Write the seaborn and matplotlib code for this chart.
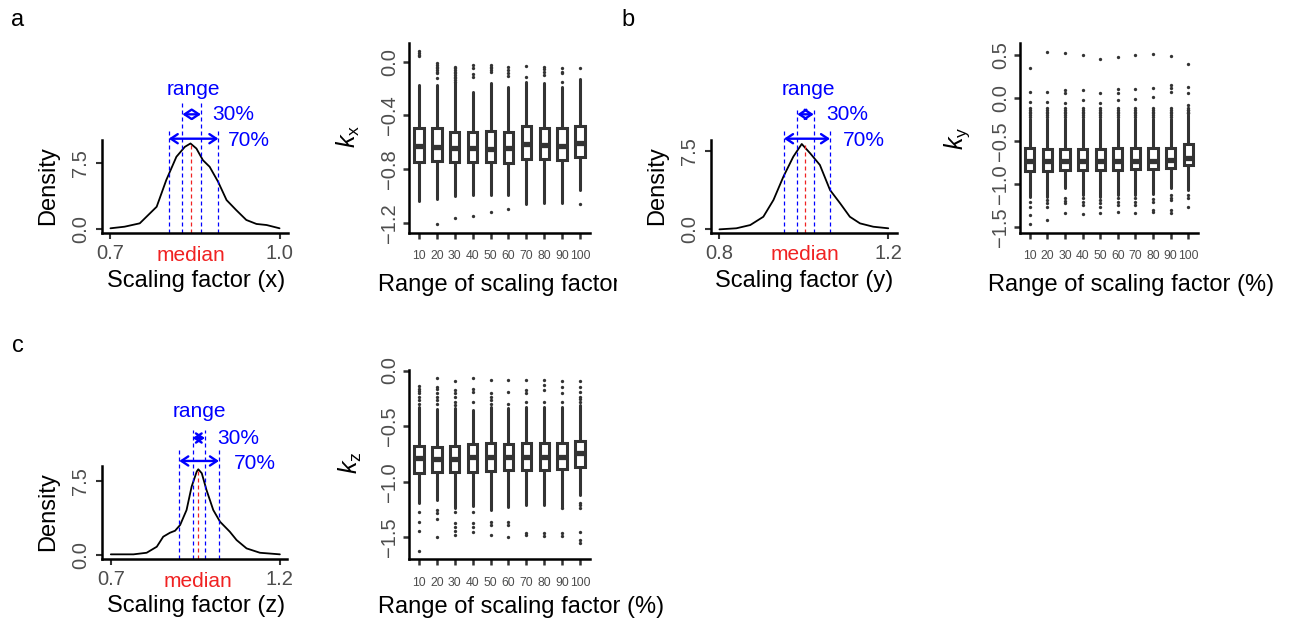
import numpy as np
import pandas as pd
import matplotlib
matplotlib.use("Agg")
import matplotlib.pyplot as plt
import matplotlib.transforms as mtransforms
from matplotlib.transforms import Bbox, TransformedBbox
import seaborn as sns

# ------------------------------------------------------------------ data
# density curves (scaling factor, density)
dens_a_x = [0.700, 0.725, 0.752, 0.782, 0.799, 0.817, 0.832, 0.842, 0.8525, 0.864,
            0.876, 0.891, 0.906, 0.923, 0.941, 0.959, 0.977, 1.000]
dens_a_y = [0.11, 0.29, 0.67, 2.54, 5.54, 8.17, 9.29, 9.67, 9.10, 7.79,
            7.04, 5.35, 3.29, 2.17, 1.05, 0.60, 0.48, 0.11]
dens_b_x = [0.800, 0.840, 0.873, 0.904, 0.928, 0.9515, 0.975, 0.995, 1.015, 1.038,
            1.062, 1.086, 1.109, 1.133, 1.1645, 1.200]
dens_b_y = [0.00, 0.10, 0.41, 1.20, 2.80, 5.02, 6.93, 8.14, 7.25, 6.14,
            3.75, 2.48, 1.20, 0.57, 0.25, 0.10]
dens_c_x = [0.700, 0.767, 0.806, 0.836, 0.855, 0.875, 0.890, 0.905, 0.924, 0.939,
            0.954, 0.9587, 0.969, 0.983, 1.003, 1.023, 1.052, 1.072, 1.1015, 1.141, 1.200]
dens_c_y = [0.07, 0.07, 0.23, 0.84, 1.85, 2.25, 2.45, 3.03, 4.54, 6.90,
            8.41, 8.65, 8.25, 6.56, 4.54, 3.36, 2.35, 1.51, 0.67, 0.23, 0.07]

# central ranges (70 % and 30 %) and medians of the scaling factors
range70_a = [0.8034, 0.8915]
range30_a = [0.8277, 0.8606]
median_a = 0.8436
median_dens_a = 9.6
range70_b = [0.953, 1.062]
range30_b = [0.9846, 1.0234]
median_b = 1.0028
median_dens_b = 8.05
range70_c = [0.9025, 1.0198]
range30_c = [0.942, 0.9784]
median_c = 0.9587
median_dens_c = 8.6

density_xticks_a = [0.7, 1.0]
density_xticks_b = [0.8, 1.2]
density_xticks_c = [0.7, 1.2]
density_yticks = [0.0, 7.5]

categories = ["10", "20", "30", "40", "50", "60", "70", "80", "90", "100"]

# box-plot summaries for k_x
kx_q1 = [-0.748, -0.741, -0.748, -0.748, -0.748, -0.752, -0.723, -0.723, -0.728, -0.708]
kx_med = [-0.624, -0.634, -0.642, -0.642, -0.649, -0.642, -0.610, -0.617, -0.624, -0.605]
kx_q3 = [-0.494, -0.494, -0.519, -0.519, -0.514, -0.519, -0.481, -0.494, -0.494, -0.476]
kx_lo = [-1.037, -1.020, -1.000, -0.987, -0.987, -0.987, -1.056, -1.049, -1.049, -0.951]
kx_hi = [-0.173, -0.173, -0.160, -0.222, -0.160, -0.185, -0.148, -0.160, -0.190, -0.131]
kx_out = [
    [0.075, 0.065, 0.050, 0.040],
    [-0.012, -0.024, -0.037, -0.049, -0.062, -0.074, -0.086, -0.123, -1.205],
    [-0.037, -0.049, -0.062, -0.074, -0.086, -0.099, -0.111, -0.123, -0.136, -0.148, -1.160],
    [-0.024, -0.049, -0.094, -0.116, -1.143],
    [-0.024, -0.037, -0.049, -0.062, -0.074, -1.118],
    [-0.037, -0.066, -0.086, -0.106, -1.094],
    [-0.032, -0.111],
    [-0.037, -0.057, -0.074, -0.099],
    [-0.049, -0.079, -0.086, -0.155],
    [-0.049, -1.054],
]
kx_yticks = [0.0, -0.4, -0.8, -1.2]

# box-plot summaries for k_y
ky_q1 = [-0.852, -0.848, -0.840, -0.840, -0.840, -0.840, -0.833, -0.833, -0.821, -0.782]
ky_med = [-0.735, -0.730, -0.735, -0.730, -0.735, -0.730, -0.730, -0.735, -0.725, -0.695]
ky_q3 = [-0.588, -0.596, -0.596, -0.596, -0.596, -0.588, -0.580, -0.580, -0.580, -0.537]
ky_lo = [-1.151, -1.151, -1.046, -1.132, -1.151, -1.132, -1.132, -1.120, -1.054, -1.073]
ky_hi = [-0.240, -0.240, -0.240, -0.240, -0.240, -0.240, -0.240, -0.240, -0.240, -0.200]
ky_dense = [-0.22, -0.20, -0.18, -0.16, -0.14, -0.12]
ky_out = [
    [0.345, 0.072, -0.044, -1.210, -1.268, -1.365, -1.473],
    [0.539, 0.072, -0.044, -1.190, -1.229, -1.268, -1.423],
    [0.520, 0.093, 0.054, -0.063, -1.171, -1.198, -1.229, -1.345],
    [0.500, 0.093, -0.024, -1.171, -1.210, -1.248, -1.353],
    [0.450, 0.061, -0.063, -1.190, -1.229, -1.268, -1.345],
    [0.473, 0.100, 0.061, -0.024, -1.171, -1.210, -1.248, -1.326],
    [0.500, 0.100, -0.016, -1.160, -1.210, -1.248, -1.337],
    [0.512, 0.112, 0.007, -1.182, -1.210, -1.306, -1.326],
    [0.492, 0.150, 0.112, 0.072, -1.132, -1.160, -1.190, -1.306, -1.337],
    [0.395, 0.131, 0.054, -0.083, -0.141, -0.180, -1.132, -1.171, -1.268],
]
ky_yticks = [0.5, 0.0, -0.5, -1.0, -1.5]

# box-plot summaries for k_z
kz_q1 = [-0.919, -0.910, -0.916, -0.910, -0.901, -0.895, -0.895, -0.895, -0.889, -0.866]
kz_med = [-0.785, -0.797, -0.797, -0.781, -0.781, -0.781, -0.776, -0.776, -0.776, -0.746]
kz_q3 = [-0.678, -0.686, -0.680, -0.662, -0.656, -0.662, -0.650, -0.650, -0.650, -0.632]
kz_lo = [-1.195, -1.165, -1.235, -1.215, -1.250, -1.225, -1.210, -1.210, -1.225, -1.120]
kz_hi = [-0.330, -0.345, -0.341, -0.356, -0.326, -0.341, -0.326, -0.326, -0.326, -0.311]
kz_out = [
    [-0.141, -0.162, -0.183, -0.206, -0.237, -0.267, -0.297, -1.27, -1.36, -1.44, -1.623],
    [-0.063, -0.147, -0.162, -0.206, -0.237, -0.267, -0.297, -1.255, -1.279, -1.339, -1.50],
    [-0.093, -0.177, -0.206, -0.237, -0.282, -0.311, -1.27, -1.375, -1.405, -1.44, -1.479],
    [-0.063, -0.162, -0.192, -0.282, -1.27, -1.375, -1.405, -1.45],
    [-0.081, -0.206, -0.237, -0.267, -0.297, -1.36, -1.39, -1.479],
    [-0.081, -0.192, -0.297, -1.36, -1.39, -1.50],
    [-0.087, -0.177, -0.206, -0.282, -1.458, -1.479],
    [-0.087, -0.132, -0.177, -0.282, -1.464, -1.488],
    [-0.093, -0.147, -0.206, -0.282, -1.24, -1.464, -1.488],
    [-0.093, -0.147, -0.192, -0.237, -0.252, -0.282, -1.189, -1.21, -1.24, -1.45, -1.524, -1.548],
]
kz_yticks = [0.0, -0.5, -1.0, -1.5]

# ------------------------------------------------------------------ style
sns.set_theme(style="ticks")
plt.rcParams["font.family"] = ["Liberation Sans", "DejaVu Sans"]
plt.rcParams["mathtext.fontset"] = "custom"
plt.rcParams["mathtext.it"] = "Liberation Sans:italic"
plt.rcParams["mathtext.rm"] = "Liberation Sans"
plt.rcParams["axes.unicode_minus"] = True
plt.rcParams["text.color"] = "black"
plt.rcParams["axes.labelcolor"] = "black"

W, H = 1293, 628
fig = plt.figure(figsize=(W / 100, H / 100), dpi=100)
fig.patch.set_facecolor("white")

BLUE = "#0000ff"
RED = "#f02222"
DARK = "#333333"
TICKC = "#4d4d4d"
AX_LW = 1.8
TS = 17
AS = 15


def px_axes(x0, y0, x1, y1):
    return fig.add_axes([x0 / W, 1 - y1 / H, (x1 - x0) / W, (y1 - y0) / H])


def style_axes(ax):
    for s in ["top", "right"]:
        ax.spines[s].set_visible(False)
    for s in ["left", "bottom"]:
        ax.spines[s].set_linewidth(AX_LW)
        ax.spines[s].set_color("black")
    ax.set_facecolor("white")
    ax.grid(False)
    ax.set_xlabel("")
    ax.set_ylabel("")


def fmt(v):
    return f"{v:.1f}".replace("-", "\u2212")


def density_panel(ax, xs, ys, r70, r30, med, med_d, xlim, ylim, xticks, g):
    df = pd.DataFrame({"x": xs, "y": ys})
    sns.lineplot(data=df, x="x", y="y", ax=ax, color="black", lw=1.3, sort=False)
    ax.set_xlim(xlim)
    ax.set_ylim(ylim)
    style_axes(ax)
    ax.set_xticks(xticks)
    ax.set_xticklabels([f"{v:.1f}" for v in xticks])
    ax.set_yticks(density_yticks)
    ax.set_yticklabels([f"{v:.1f}" for v in density_yticks], rotation=90, va="center")
    ax.tick_params(axis="both", direction="out", length=4.5, width=1.5, color=DARK,
                   labelcolor=TICKC, labelsize=14.5)
    ax.tick_params(axis="x", pad=3.5)
    ax.tick_params(axis="y", pad=4)
    tr = mtransforms.blended_transform_factory(ax.transData, ax.transAxes)
    dash = (0, (3.2, 2.4))
    for v in r70:
        ax.plot([v, v], [0, g["out_top"]], transform=tr, color=BLUE, lw=0.9, ls=dash,
                clip_on=False)
    for v in r30:
        ax.plot([v, v], [0, g["in_top"]], transform=tr, color=BLUE, lw=0.9, ls=dash,
                clip_on=False)
    ax.plot([med, med], [ylim[0], med_d], color=RED, lw=0.9, ls=dash, clip_on=False)
    aprops = dict(arrowstyle="<->,head_length=0.45,head_width=0.3", color=BLUE, lw=1.7,
                  mutation_scale=11, shrinkA=0, shrinkB=0)
    ax.annotate("", xy=(r30[0], g["a30"]), xytext=(r30[1], g["a30"]), xycoords=tr,
                textcoords=tr, arrowprops=aprops, annotation_clip=False)
    ax.annotate("", xy=(r70[0], g["a70"]), xytext=(r70[1], g["a70"]), xycoords=tr,
                textcoords=tr, arrowprops=aprops, annotation_clip=False)
    ax.text((r30[0] + r30[1]) / 2 + g["rng_dx"], g["rng"], "range", transform=tr,
            ha="center", va="center", color=BLUE, fontsize=AS)
    ax.annotate("30%", xy=(r30[1], g["a30"]), xycoords=tr, xytext=(g["t30_dx"], 0),
                textcoords="offset points", ha="left", va="center", color=BLUE,
                fontsize=AS, annotation_clip=False)
    ax.annotate("70%", xy=(r70[1], g["t70"]), xycoords=tr, xytext=(g["t70_dx"], 0),
                textcoords="offset points", ha="left", va="center", color=BLUE,
                fontsize=AS, annotation_clip=False)
    ax.text(med, g["med_y"], "median", transform=tr, ha="center", va="center",
            color=RED, fontsize=AS)


def box_panel(ax, q1, med, q3, lo, hi, outs, yticks, ylim, dense=None):
    stats = []
    for i in range(len(categories)):
        fl = list(outs[i])
        if dense is not None:
            fl = fl + [d for d in dense if d > hi[i]]
        stats.append(dict(med=med[i], q1=q1[i], q3=q3[i], whislo=lo[i], whishi=hi[i],
                          fliers=fl))
    ax.bxp(stats, positions=list(range(len(categories))), widths=0.52, patch_artist=True,
           showcaps=False,
           boxprops=dict(facecolor="white", edgecolor=DARK, linewidth=2.2),
           medianprops=dict(color=DARK, linewidth=3.8, solid_capstyle="butt"),
           whiskerprops=dict(color=DARK, linewidth=2.2),
           flierprops=dict(marker="o", markersize=2.4, markerfacecolor=DARK,
                           markeredgecolor="none"))
    ax.set_xlim(-0.56, len(categories) - 1 + 0.56)
    ax.set_ylim(ylim)
    style_axes(ax)
    ax.set_xticks(list(range(len(categories))))
    ax.set_xticklabels(categories)
    ax.set_yticks(yticks)
    ax.set_yticklabels([fmt(v) for v in yticks], rotation=90, va="center")
    ax.tick_params(axis="both", direction="out", length=4.5, width=1.8, color=DARK,
                   labelcolor=TICKC)
    ax.tick_params(axis="x", labelsize=8.8, pad=8)
    ax.tick_params(axis="y", labelsize=14.5, pad=2.5)


# ------------------------------------------------------------------ panels
# panel a
ax_a1 = px_axes(102, 140, 288, 233)
density_panel(ax_a1, dens_a_x, dens_a_y, range70_a, range30_a, median_a, median_dens_a,
              (0.685, 1.015), (-0.42, 10.06), density_xticks_a,
              dict(out_top=1.13, in_top=1.41, a30=1.276, a70=1.014, rng=1.545,
                   t70=0.99, t30_dx=8, t70_dx=7, rng_dx=0.003, med_y=-0.24))
ax_a2 = px_axes(409, 43, 590, 232.7)
box_panel(ax_a2, kx_q1, kx_med, kx_q3, kx_lo, kx_hi, kx_out, kx_yticks, (-1.27, 0.138))

# panel b
ax_b1 = px_axes(711, 140, 896.7, 232.7)
density_panel(ax_b1, dens_b_x, dens_b_y, range70_b, range30_b, median_b, median_dens_b,
              (0.78, 1.22), (-0.32, 8.52), density_xticks_b,
              dict(out_top=1.126, in_top=1.33, a30=1.277, a70=1.014, rng=1.547,
                   t70=0.99, t30_dx=9, t70_dx=9, rng_dx=0.006, med_y=-0.24))
ax_b2 = px_axes(1020, 43, 1198, 232.7)
box_panel(ax_b2, ky_q1, ky_med, ky_q3, ky_lo, ky_hi, ky_out, ky_yticks, (-1.57, 0.64),
          dense=ky_dense)

# panel c
ax_c1 = px_axes(101.7, 466, 287.3, 559.3)
density_panel(ax_c1, dens_c_x, dens_c_y, range70_c, range30_c, median_c, median_dens_c,
              (0.673, 1.222), (-0.43, 8.98), density_xticks_c,
              dict(out_top=1.18, in_top=1.39, a30=1.30, a70=1.054, rng=1.58,
                   t70=1.03, t30_dx=9, t70_dx=11, rng_dx=0.003, med_y=-0.24))
ax_c2 = px_axes(409, 370, 590, 559.3)
box_panel(ax_c2, kz_q1, kz_med, kz_q3, kz_lo, kz_hi, kz_out, kz_yticks, (-1.698, 0.005))

# ------------------------------------------------------------------ titles
def ftext(x, y, s, **kw):
    return fig.text(x / W, 1 - y / H, s, **kw)

ftext(48, 186, "Density", rotation=90, ha="center", va="center", fontsize=TS)
ftext(196, 281, "Scaling factor (x)", ha="center", va="center", fontsize=TS)
ftext(348, 136, r"$\mathit{k}_{\mathrm{x}}$", rotation=90, ha="center", va="center",
      fontsize=TS + 1)
t = ftext(378, 285, "Range of scaling factor (%)", ha="left", va="center", fontsize=TS)
t.set_clip_box(TransformedBbox(Bbox([[0, 0], [617 / W, 1]]), fig.transFigure))
t.set_clip_on(True)

ftext(657, 186, "Density", rotation=90, ha="center", va="center", fontsize=TS)
ftext(804, 281, "Scaling factor (y)", ha="center", va="center", fontsize=TS)
ftext(957, 138, r"$\mathit{k}_{\mathrm{y}}$", rotation=90, ha="center", va="center",
      fontsize=TS + 1)
ftext(988, 285, "Range of scaling factor (%)", ha="left", va="center", fontsize=TS)

ftext(48, 512, "Density", rotation=90, ha="center", va="center", fontsize=TS)
ftext(196, 606, "Scaling factor (z)", ha="center", va="center", fontsize=TS)
ftext(350, 463, r"$\mathit{k}_{\mathrm{z}}$", rotation=90, ha="center", va="center",
      fontsize=TS + 1)
ftext(378, 607, "Range of scaling factor (%)", ha="left", va="center", fontsize=TS)

ftext(18, 20, "a", ha="center", va="center", fontsize=17)
ftext(628, 20, "b", ha="center", va="center", fontsize=17)
ftext(18, 346, "c", ha="center", va="center", fontsize=17)

fig.savefig("out.png", dpi=100, facecolor="white")
